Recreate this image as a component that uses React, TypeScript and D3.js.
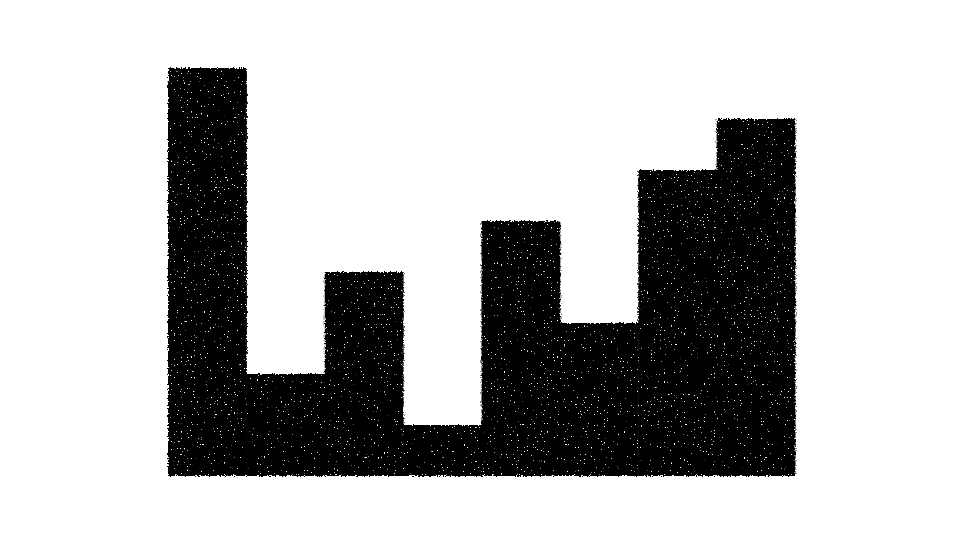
import * as React from 'react';
import * as d3 from 'd3';

const categories = ['A', 'B', 'C', 'D', 'E', 'F', 'G', 'H'];
const values = [8, 2, 4, 1, 5, 3, 6, 7];

const width = 960;
const height = 540;
const margin = { top: 68, right: 165, bottom: 64, left: 168 };

const App = () => {
  const x = d3
    .scaleBand<string>()
    .domain(categories)
    .range([margin.left, width - margin.right])
    .padding(0);

  const y = d3
    .scaleLinear()
    .domain([0, d3.max(values) as number])
    .range([height - margin.bottom, margin.top]);

  return (
    <svg
      width={width}
      height={height}
      style={{ position: 'absolute', left: 0, top: 0, background: '#fff' }}
    >
      <defs>
        {/* rough edges */}
        <filter id="rough" x="-5%" y="-5%" width="110%" height="110%">
          <feTurbulence type="fractalNoise" baseFrequency="0.6" numOctaves="2" seed="3" result="n" />
          <feDisplacementMap in="SourceGraphic" in2="n" scale="4" xChannelSelector="R" yChannelSelector="G" result="d" />
          {/* sparse white specks inside */}
          <feTurbulence type="fractalNoise" baseFrequency="0.7" numOctaves="1" seed="7" result="s" />
          <feColorMatrix
            in="s"
            type="matrix"
            values="0 0 0 0 1  0 0 0 0 1  0 0 0 0 1  30 0 0 0 -21"
            result="specks"
          />
          <feComposite in="specks" in2="d" operator="in" result="sp" />
          <feMerge>
            <feMergeNode in="d" />
            <feMergeNode in="sp" />
          </feMerge>
        </filter>
      </defs>
      <g filter="url(#rough)">
        {categories.map((c, i) => (
          <rect
            key={c}
            x={x(c) as number}
            y={y(values[i])}
            width={x.bandwidth() + 0.5}
            height={y(0) - y(values[i])}
            fill="#000"
          />
        ))}
      </g>
    </svg>
  );
};

export default App;
